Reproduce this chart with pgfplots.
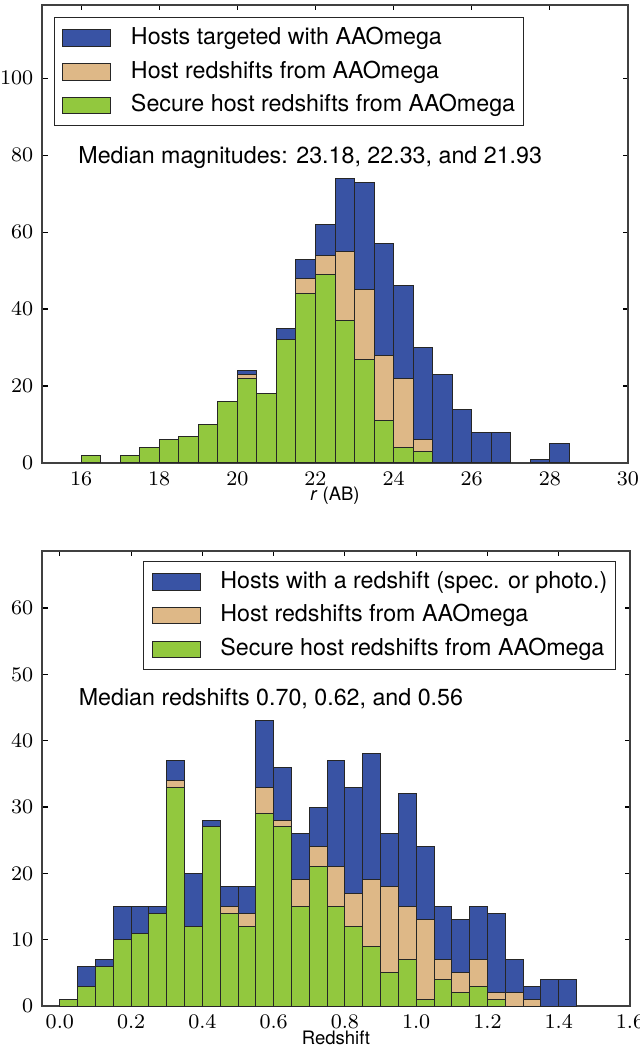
\documentclass[border=0pt]{standalone}
\usepackage{fix-cm}
\usepackage{fontspec}
\setmainfont{TeX Gyre Heros}
\usepackage{pgfplots}
\pgfplotsset{compat=1.18}

\definecolor{hostblue}{RGB}{57,83,164}
\definecolor{hosttan}{RGB}{222,184,135}
\definecolor{hostgreen}{RGB}{146,200,62}

\tikzset{median/.style={anchor=base west, inner sep=0pt, font=\fontsize{9.3}{11}\selectfont}}

\pgfplotsset{
  hist/.style={
    scale only axis,
    anchor=south west,
    ybar,
    ymin=0,
    tick align=inside,
    major tick length=2.2pt,
    axis line style={black!75, line width=0.55pt},
    tick style={black, line width=0.45pt},
    tick label style={font=\fontsize{8.3}{10}\selectfont},
    every axis x label/.style={at={(axis description cs:0.5,-0.071)}, anchor=center,
      inner sep=0pt, font=\fontsize{7.4}{9}\selectfont},
    legend image code/.code={\draw[##1] (0pt,-3.3pt) rectangle (19.2pt,3.3pt);},
    legend cell align=left,
    legend style={
      draw=black!85, line width=0.4pt,
      font=\fontsize{9.3}{11}\selectfont,
      inner xsep=3.3pt, inner ysep=3.65pt,
      row sep=4.5pt, column sep=7.8pt,
      nodes={inner sep=0pt, text height=7pt, text depth=2pt},
    },
  },
  histbar/.style={draw=black!85, line width=0.4pt, fill=#1, bar shift=0pt},
}

\begin{document}
\begin{tikzpicture}
\useasboundingbox (0pt,0pt) rectangle (255.6pt,420pt);

% r-band magnitudes
\begin{axis}[
  hist,
  at={(16.8pt,234.8pt)},
  width=234.4pt, height=183.2pt,
  xmin=15, xmax=30, ymax=119,
  xtick={16,18,...,30}, ytick={0,20,...,100},
  bar width=0.5,
  xlabel={\textit{r} (AB)},
  legend style={at={(0,1)}, anchor=north west, xshift=4.7pt, yshift=-4.9pt},
]
\addplot[histbar=hostblue] coordinates {
  (16.25,2) (17.25,2) (17.75,4) (18.25,6) (18.75,7) (19.25,10) (19.75,16)
  (20.25,24) (20.75,18) (21.25,35) (21.75,53) (22.25,62) (22.75,74)
  (23.25,73) (23.75,57) (24.25,46) (24.75,30) (25.25,23) (25.75,14)
  (26.25,8) (26.75,8) (27.75,1) (28.25,5)};
\addlegendentry{Hosts targeted with AAOmega}
\addplot[histbar=hosttan] coordinates {
  (16.25,2) (17.25,2) (17.75,4) (18.25,6) (18.75,7) (19.25,10) (19.75,16)
  (20.25,23) (20.75,18) (21.25,32) (21.75,48) (22.25,54) (22.75,55)
  (23.25,45) (23.75,28) (24.25,22) (24.75,6)};
\addlegendentry{Host redshifts from AAOmega}
\addplot[histbar=hostgreen] coordinates {
  (16.25,2) (17.25,2) (17.75,4) (18.25,6) (18.75,7) (19.25,10) (19.75,16)
  (20.25,22) (20.75,18) (21.25,32) (21.75,44) (22.25,49) (22.75,37)
  (23.25,27) (23.75,11) (24.25,4) (24.75,3)};
\addlegendentry{Secure host redshifts from AAOmega}
\node[median] at (axis cs:15.92,77.7) {Median magnitudes: 23.18, 22.33, and 21.93};
\end{axis}

% redshifts
\begin{axis}[
  hist,
  at={(16.8pt,17.6pt)},
  width=235.2pt, height=182pt,
  xmin=-0.05, xmax=1.6, ymax=68.6,
  xtick={0,0.2,...,1.6}, ytick={0,10,...,60},
  xticklabel style={/pgf/number format/.cd, fixed, fixed zerofill, precision=1},
  bar width=0.05,
  xlabel={Redshift},
  legend style={at={(1,1)}, anchor=north east, xshift=-5.6pt, yshift=-4pt},
]
\addplot[histbar=hostblue] coordinates {
  (0.025,1) (0.075,6) (0.125,7) (0.175,15) (0.225,15) (0.275,15) (0.325,37)
  (0.375,20) (0.425,28) (0.475,18) (0.525,18) (0.575,43) (0.625,36)
  (0.675,26) (0.725,30) (0.775,37) (0.825,33) (0.875,38) (0.925,26)
  (0.975,32) (1.025,24) (1.075,15) (1.125,13) (1.175,15) (1.225,14)
  (1.275,7) (1.325,3) (1.375,4) (1.425,4)};
\addlegendentry{Hosts with a redshift (spec. or photo.)}
\addplot[histbar=hosttan] coordinates {
  (0.025,1) (0.075,3) (0.125,6) (0.175,10) (0.225,11) (0.275,14) (0.325,34)
  (0.375,12) (0.425,27) (0.475,15) (0.525,14) (0.575,33) (0.625,28)
  (0.675,19) (0.725,24) (0.775,21) (0.825,17) (0.875,19) (0.925,18)
  (0.975,15) (1.025,13) (1.075,7) (1.125,5) (1.175,7) (1.225,2)
  (1.275,2) (1.325,1)};
\addlegendentry{Host redshifts from AAOmega}
\addplot[histbar=hostgreen] coordinates {
  (0.025,1) (0.075,3) (0.125,6) (0.175,10) (0.225,11) (0.275,14) (0.325,33)
  (0.375,12) (0.425,27) (0.475,14) (0.525,12) (0.575,29) (0.625,27)
  (0.675,15) (0.725,21) (0.775,15) (0.825,12) (0.875,9) (0.925,5)
  (0.975,7) (1.025,1) (1.075,4) (1.125,2) (1.175,3) (1.225,1)};
\addlegendentry{Secure host redshifts from AAOmega}
\node[median] at (axis cs:0.052,45.3) {Median redshifts 0.70, 0.62, and 0.56};
\end{axis}
\end{tikzpicture}
\end{document}
